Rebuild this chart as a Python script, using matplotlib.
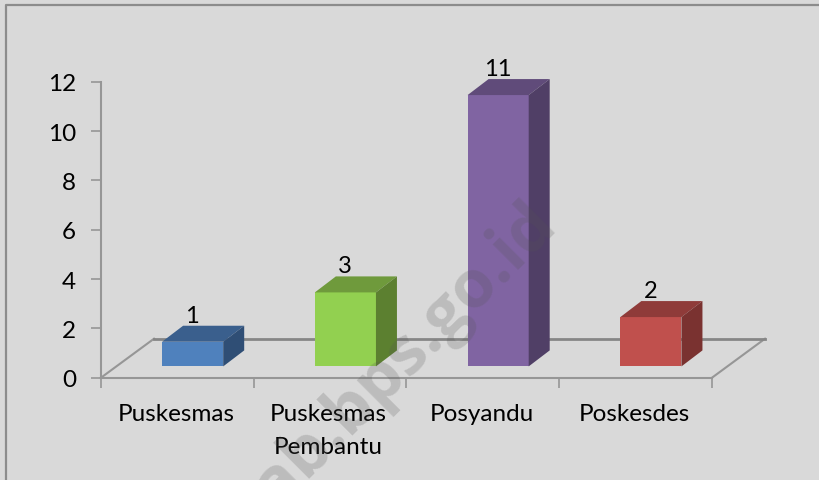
import matplotlib
matplotlib.use('Agg')
import matplotlib.pyplot as plt
from matplotlib.patches import Polygon

plt.rcParams['font.family'] = ['Lato', 'DejaVu Sans']

categories = ['Puskesmas', 'Puskesmas\nPembantu', 'Posyandu', 'Poskesdes']
values = [1, 3, 11, 2]
front_colors = ['#4f81bd', '#92d050', '#8064a2', '#c0504d']
top_colors = ['#3a5f8d', '#6f9a3c', '#604b7a', '#8f3b39']
side_colors = ['#2f4e75', '#5c8030', '#503f66', '#7a3230']
yticks = [0, 2, 4, 6, 8, 10, 12]

W, H = 820, 481
fig = plt.figure(figsize=(W / 100, H / 100), dpi=100, facecolor='#d9d9d9')

# chart border, top and left only, in pixels
bg = fig.add_axes([0, 0, 1, 1])
bg.set_xlim(0, W)
bg.set_ylim(H, 0)
bg.axis('off')
bg.plot([6, 6, W], [H, 6, 6], color='#8c8c8c', lw=1.6)

# plot axes: x in categories, y in values
x0, x1, y0, y1 = 101, 712, 378.7, 82.7
ax = fig.add_axes([x0 / W, 1 - y0 / H, (x1 - x0) / W, (y0 - y1) / H])
ax.patch.set_visible(False)
ax.set_xlim(0, 4)
ax.set_ylim(0, 12)
for s in ['top', 'right']:
    ax.spines[s].set_visible(False)
for s in ['left', 'bottom']:
    ax.spines[s].set_color('#969696')
    ax.spines[s].set_linewidth(1.5)
ax.set_yticks(yticks)
ax.set_xticks(range(5))
ax.set_xticklabels([])
ax.tick_params(axis='both', color='#969696', width=1.2, length=7, labelsize=17.5)
ax.tick_params(axis='y', pad=11)

# depth of the fake 3d, in data units
floor_dx = 53 / 152.75
floor_dy = 39 / 24.67
dx = 21 / 152.75
dy = 16 / 24.67
base = 11.3 / 24.67
bar_w = 0.4

ax.plot([0, floor_dx], [0, floor_dy], color='#969696', lw=1.5, clip_on=False, zorder=1)
ax.plot([4, 4 + floor_dx], [0, floor_dy], color='#969696', lw=1.5, clip_on=False, zorder=1)
ax.plot([floor_dx, 4 + floor_dx], [floor_dy, floor_dy], color='#868686', lw=2, clip_on=False, zorder=1)

for i, v in enumerate(values):
    left = i + 0.40
    right = left + bar_w
    top = base + v
    ax.add_patch(Polygon([(left, base), (right, base), (right, top), (left, top)],
                         fc=front_colors[i], ec='none', zorder=3, clip_on=False))
    ax.add_patch(Polygon([(left, top), (right, top), (right + dx, top + dy), (left + dx, top + dy)],
                         fc=top_colors[i], ec='none', zorder=3, clip_on=False))
    ax.add_patch(Polygon([(right, base), (right + dx, base + dy), (right + dx, top + dy), (right, top)],
                         fc=side_colors[i], ec='none', zorder=3, clip_on=False))
    ax.annotate(str(v), (i + 0.6, top + dy), xytext=(-0.5, 0), textcoords='offset points',
                ha='center', va='bottom', fontsize=17, color='black', zorder=4, annotation_clip=False)
    ax.annotate(categories[i], (i + 0.5, 0), xytext=(-1, -18), textcoords='offset points',
                ha='center', va='top', fontsize=17.5, color='black', linespacing=1.7, annotation_clip=False)

# watermark over the chart
wm = fig.add_axes([0, 0, 1, 1], zorder=5)
wm.set_xlim(0, W)
wm.set_ylim(H, 0)
wm.axis('off')
wm.text(558, 225, 'kab.bps.go.id', rotation=45, rotation_mode='anchor', ha='right', va='baseline',
        fontsize=48, fontweight='bold', color='#555555', alpha=0.22, family='Open Sans')

fig.savefig('out.png', dpi=100, facecolor=fig.get_facecolor())
